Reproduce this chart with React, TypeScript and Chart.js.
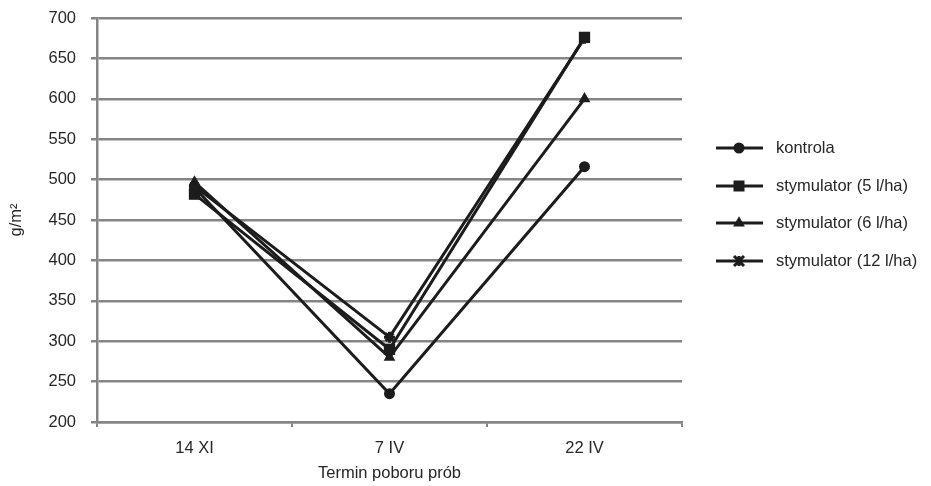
import React, { useEffect, useRef } from "react";
import { Chart, registerables } from "chart.js";

Chart.register(...registerables);

const categories = ["14 XI", "7 IV", "22 IV"];
const seriesNames = ["kontrola", "stymulator (5 l/ha)", "stymulator (6 l/ha)", "stymulator (12 l/ha)"];
const kontrola = [490, 235, 516];
const stym5 = [482, 290, 676];
const stym6 = [497, 280, 600];
const stym12 = [492, 305, 675];
const pointStyles = ["circle", "rect", "triangle", "star"];
const pointRadii = [5.5, 8, 6.8, 5.5];
const yMin = 200;
const yMax = 700;
const yStep = 50;

const LINE = "#1c1c1c";
const GRID = "#858585";
const TEXT = "#262626";
const FONT = "Liberation Sans, Arial, sans-serif";
const FSIZE = 16.5;

function drawMarker(ctx: CanvasRenderingContext2D, style: string, x: number, y: number) {
  ctx.beginPath();
  if (style === "circle") {
    ctx.arc(x, y, 5.5, 0, Math.PI * 2);
    ctx.fill();
  } else if (style === "rect") {
    ctx.fillRect(x - 5.5, y - 5.5, 11, 11);
  } else if (style === "triangle") {
    ctx.moveTo(x, y - 6.8);
    ctx.lineTo(x + 5.9, y + 3.6);
    ctx.lineTo(x - 5.9, y + 3.6);
    ctx.closePath();
    ctx.fill();
  } else {
    const r = 5;
    ctx.lineWidth = 3;
    ctx.moveTo(x - r, y - r);
    ctx.lineTo(x + r, y + r);
    ctx.moveTo(x + r, y - r);
    ctx.lineTo(x - r, y + r);
    ctx.moveTo(x, y - r);
    ctx.lineTo(x, y + r);
    ctx.stroke();
  }
}

const legendPlugin = {
  id: "customLegend",
  afterDraw(chart: any) {
    const ctx = chart.ctx;
    const rows = [148, 186, 223, 261];
    ctx.save();
    chart.data.datasets.forEach((ds: any, i: number) => {
      const y = rows[i];
      ctx.strokeStyle = LINE;
      ctx.lineWidth = 3;
      ctx.beginPath();
      ctx.moveTo(716, y);
      ctx.lineTo(763, y);
      ctx.stroke();
      ctx.fillStyle = LINE;
      drawMarker(ctx, ds.pointStyle, 739, y);
      ctx.fillStyle = TEXT;
      ctx.font = `${FSIZE}px ${FONT}`;
      ctx.textBaseline = "middle";
      ctx.textAlign = "left";
      ctx.fillText(ds.label, 776, y);
    });
    ctx.restore();
  },
};

export default function App() {
  const ref = useRef<HTMLCanvasElement | null>(null);
  useEffect(() => {
    document.body.style.margin = "0";
    const values = [kontrola, stym5, stym6, stym12];
    const chart = new Chart(ref.current as HTMLCanvasElement, {
      type: "line",
      data: {
        labels: categories,
        datasets: values.map((v, i) => ({
          label: seriesNames[i],
          data: v,
          borderColor: LINE,
          backgroundColor: LINE,
          borderWidth: 3,
          pointStyle: pointStyles[i] as any,
          pointRadius: pointRadii[i],
          pointBorderWidth: i === 3 ? 3 : 0,
          pointBorderColor: LINE,
          pointBackgroundColor: LINE,
          tension: 0,
        })),
      },
      options: {
        animation: false,
        responsive: false,
        layout: { padding: { top: 18, right: 249, left: 0, bottom: 0 } },
        plugins: { legend: { display: false }, tooltip: { enabled: false } },
        scales: {
          x: {
            offset: true,
            grid: {
              offset: true,
              drawOnChartArea: false,
              drawTicks: true,
              tickLength: 5,
              color: GRID,
              lineWidth: 2,
            },
            border: { color: GRID, width: 2.5 },
            ticks: { color: TEXT, font: { family: FONT, size: FSIZE }, padding: 12 },
            title: {
              display: true,
              text: "Termin poboru prób",
              color: TEXT,
              font: { family: FONT, size: FSIZE },
              padding: { top: 4, bottom: 3 },
            },
            afterFit(scale: any) {
              scale.height = 64;
              scale.paddingLeft = 0;
              scale.paddingRight = 0;
            },
          },
          y: {
            min: yMin,
            max: yMax,
            ticks: {
              stepSize: yStep,
              color: TEXT,
              font: { family: FONT, size: FSIZE },
              padding: 15,
            },
            grid: { color: GRID, lineWidth: 2.5, tickLength: 6 },
            border: { color: GRID, width: 2.5 },
            title: {
              display: true,
              text: "g/m²",
              color: TEXT,
              font: { family: FONT, size: FSIZE },
              padding: { top: 7, bottom: 0 },
            },
            afterFit(scale: any) {
              scale.width = 97;
              scale.paddingTop = 0;
              scale.paddingBottom = 0;
            },
          },
        },
      },
      plugins: [legendPlugin],
    });
    return () => chart.destroy();
  }, []);
  return (
    <div style={{ width: 931, height: 486 }}>
      <canvas ref={ref} width={931} height={486} style={{ display: "block" }} />
    </div>
  );
}
